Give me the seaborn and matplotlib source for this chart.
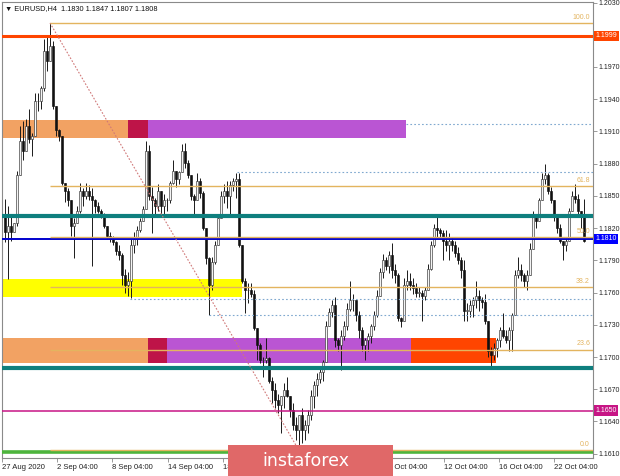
import matplotlib
matplotlib.use("Agg")
import matplotlib.pyplot as plt
from matplotlib.patches import Rectangle
from matplotlib.transforms import blended_transform_factory
import numpy as np
import pandas as pd
import seaborn as sns

# EURUSD H4 candles, in pips (1.1847 -> 11847)
high_pips = [
    11847, 11841, 11832, 11825, 11873, 11915, 11920, 11922, 11931, 11909,
    11946, 11946, 11952, 11996, 11999, 12011, 11994, 11931, 11912, 11906,
    11862, 11857, 11846, 11829, 11841, 11862, 11857, 11862, 11860, 11857,
    11847, 11844, 11838, 11834, 11822, 11816, 11813, 11808, 11804, 11797,
    11782, 11779, 11810, 11816, 11822, 11829, 11841, 11901, 11897, 11858,
    11848, 11861, 11855, 11852, 11848, 11864, 11883, 11873, 11873, 11898,
    11899, 11883, 11869, 11852, 11871, 11867, 11855, 11820, 11793, 11793,
    11808, 11833, 11855, 11861, 11864, 11864, 11867, 11871, 11871, 11804,
    11774, 11769, 11769, 11762, 11727, 11713, 11700, 11718, 11700, 11681,
    11676, 11666, 11660, 11676, 11681, 11664, 11657, 11644, 11637, 11653,
    11641, 11651, 11669, 11678, 11685, 11690, 11697, 11734, 11746, 11753,
    11756, 11718, 11725, 11734, 11750, 11771, 11759, 11753, 11743, 11728,
    11718, 11722, 11731, 11743, 11762, 11783, 11796, 11793, 11799, 11806,
    11787, 11778, 11737, 11774, 11781, 11778, 11774, 11769, 11765, 11762,
    11765, 11787, 11808, 11824, 11830, 11820, 11818, 11818, 11815, 11811,
    11808, 11802, 11793, 11790, 11750, 11753, 11756, 11771, 11762, 11756,
    11759, 11734, 11709, 11713, 11718, 11728, 11741, 11725, 11728, 11741,
    11781, 11793, 11787, 11778, 11781, 11806, 11836, 11833, 11848, 11871,
    11880, 11871, 11858, 11846, 11832, 11824, 11808, 11811, 11839, 11855,
    11861, 11852, 11836, 11847,
]
low_pips = [
    11807, 11773, 11808, 11816, 11822, 11873, 11883, 11892, 11899, 11887,
    11906, 11929, 11931, 11948, 11966, 11976, 11931, 11906, 11901, 11860,
    11844, 11841, 11813, 11792, 11825, 11834, 11841, 11847, 11846, 11785,
    11834, 11834, 11829, 11820, 11810, 11807, 11804, 11795, 11790, 11767,
    11760, 11757, 11755, 11797, 11804, 11816, 11827, 11838, 11846, 11815,
    11833, 11836, 11830, 11833, 11836, 11843, 11861, 11858, 11861, 11872,
    11876, 11867, 11846, 11833, 11846, 11848, 11818, 11787, 11739, 11762,
    11787, 11804, 11829, 11843, 11839, 11833, 11855, 11848, 11802, 11769,
    11741, 11750, 11756, 11725, 11697, 11694, 11681, 11694, 11676, 11657,
    11653, 11648, 11629, 11653, 11663, 11644, 11632, 11623, 11613, 11620,
    11623, 11629, 11641, 11653, 11664, 11676, 11678, 11695, 11729, 11737,
    11709, 11706, 11688, 11716, 11725, 11743, 11743, 11734, 11718, 11706,
    11697, 11706, 11713, 11725, 11737, 11757, 11774, 11781, 11778, 11774,
    11769, 11734, 11728, 11734, 11762, 11762, 11759, 11756, 11756, 11734,
    11753, 11762, 11781, 11802, 11811, 11811, 11790, 11799, 11790, 11799,
    11793, 11787, 11774, 11734, 11734, 11737, 11737, 11746, 11743, 11746,
    11731, 11700, 11690, 11697, 11700, 11709, 11718, 11713, 11706, 11706,
    11739, 11774, 11771, 11765, 11762, 11776, 11801, 11820, 11827, 11846,
    11861, 11852, 11843, 11827, 11815, 11806, 11790, 11799, 11808, 11836,
    11843, 11833, 11820, 11807,
]
close_pips = [
    11816, 11822, 11816, 11825, 11869, 11901, 11892, 11915, 11903, 11906,
    11938, 11938, 11950, 11985, 11976, 11990, 11934, 11911, 11906, 11862,
    11855, 11846, 11822, 11825, 11836, 11855, 11850, 11855, 11850, 11846,
    11841, 11836, 11832, 11822, 11813, 11810, 11807, 11799, 11795, 11776,
    11767, 11771, 11804, 11810, 11818, 11827, 11838, 11892, 11850, 11846,
    11841, 11855, 11841, 11846, 11846, 11862, 11873, 11866, 11872, 11892,
    11881, 11869, 11850, 11846, 11864, 11853, 11820, 11792, 11767, 11788,
    11804, 11829, 11850, 11855, 11850, 11860, 11864, 11866, 11804, 11771,
    11762, 11762, 11759, 11727, 11711, 11697, 11697, 11699, 11678, 11669,
    11660, 11655, 11664, 11669, 11664, 11651, 11637, 11632, 11646, 11632,
    11637, 11646, 11664, 11674, 11680, 11686, 11695, 11729, 11742, 11748,
    11716, 11711, 11720, 11729, 11745, 11753, 11753, 11739, 11725, 11711,
    11716, 11720, 11729, 11739, 11757, 11779, 11790, 11785, 11795, 11781,
    11776, 11736, 11734, 11767, 11771, 11767, 11764, 11760, 11760, 11757,
    11762, 11782, 11804, 11820, 11818, 11815, 11808, 11804, 11808, 11804,
    11797, 11790, 11781, 11743, 11743, 11748, 11753, 11757, 11753, 11751,
    11734, 11706, 11702, 11708, 11716, 11725, 11720, 11716, 11725, 11739,
    11776, 11781, 11776, 11771, 11776, 11801, 11832, 11827, 11846, 11866,
    11869, 11855, 11846, 11832, 11820, 11808, 11804, 11808, 11836, 11850,
    11847, 11836, 11830, 11808,
]
first_open_pips = 11830

date_labels = [
    "27 Aug 2020", "2 Sep 04:00", "8 Sep 04:00", "14 Sep 04:00", "18 Sep 04:00",
    "24 Sep 04:00", "30 Sep 04:00", "6 Oct 04:00", "12 Oct 04:00", "16 Oct 04:00",
    "22 Oct 04:00",
]
price_ticks = [1.1610, 1.1640, 1.1670, 1.1700, 1.1730, 1.1760, 1.1790, 1.1820,
               1.1850, 1.1880, 1.1910, 1.1940, 1.1970, 1.2030]

# fibonacci swing (bar index, price)
fib_start, fib_end = 15, 98
fib_high, fib_low = 1.2011, 1.1613
fib_levels = [0.0, 23.6, 38.2, 50.0, 61.8, 100.0]

# horizontal levels
red_level = 1.1999
blue_level = 1.1810
magenta_level = 1.1650
teal_levels = [1.1831, 1.1690]
green_level = 1.1612
dotted_levels = [1.1917, 1.1872, 1.1754, 1.1739]
dotted_starts = [133.7, 77.3, 41.7, 68.0]

# zones: (bar from, bar to, low, high, colour)
zones = [
    (-1, 41.0, 1.1904, 1.1921, "#F2A263"),
    (41.0, 47.7, 1.1904, 1.1921, "#BE1448"),
    (47.7, 133.7, 1.1904, 1.1921, "#BA55D3"),
    (-1, 79.0, 1.1756, 1.1773, "#FFFF00"),
    (-1, 47.7, 1.1694, 1.1718, "#F2A263"),
    (47.7, 54.0, 1.1694, 1.1718, "#BE1448"),
    (54.0, 135.3, 1.1694, 1.1718, "#BA55D3"),
    (135.3, 163.7, 1.1694, 1.1718, "#FF4500"),
]

sns.set_theme(style="white")
plt.rcParams["font.family"] = ["Liberation Sans", "DejaVu Sans"]

candles = pd.DataFrame({
    "high": np.array(high_pips) / 10000,
    "low": np.array(low_pips) / 10000,
    "close": np.array(close_pips) / 10000,
})
candles["open"] = np.r_[first_open_pips / 10000, candles["close"].values[:-1]]
candles["high"] = candles[["high", "open", "close"]].max(axis=1)
candles["low"] = candles[["low", "open", "close"]].min(axis=1)
candles["bar"] = np.arange(len(candles))

fig = plt.figure(figsize=(6.2, 4.76), dpi=100)
ax = fig.add_axes([2 / 620, 18 / 476, 591 / 620, 456 / 476])
ax.set_xlim(-1, 196)
ax.set_ylim(1.1606, 1.20305)

for x0, x1, lo, hi, col in zones:
    ax.add_patch(Rectangle((x0, lo), x1 - x0, hi - lo, facecolor=col,
                           edgecolor="none", zorder=1))

# candles
bull = candles["close"] >= candles["open"]
body_lo = candles[["open", "close"]].min(axis=1)
body_h = (candles["close"] - candles["open"]).abs().clip(lower=0.00004)
ax.vlines(candles["bar"], candles["low"], candles["high"], color="#1A1A1A",
          lw=0.7, zorder=3)
ax.bar(candles["bar"][bull], body_h[bull], bottom=body_lo[bull], width=0.65,
       color="#F4F4F4", edgecolor="#333333", linewidth=0.45, zorder=4)
ax.bar(candles["bar"][~bull], body_h[~bull], bottom=body_lo[~bull], width=0.65,
       color="#111111", edgecolor="#111111", linewidth=0.45, zorder=4)

# levels
ax.axhline(green_level, color="#4DB43C", lw=2.6, zorder=5)
ax.axhline(red_level, color="#FF4500", lw=2.2, zorder=5)
for lvl in teal_levels:
    ax.axhline(lvl, color="#0E7F7E", lw=3.0, zorder=5)
ax.axhline(blue_level, color="#0000CD", lw=1.4, zorder=5)
ax.axhline(magenta_level, color="#C71585", lw=1.1, zorder=5)
for lvl, start in zip(dotted_levels, dotted_starts):
    ax.hlines(lvl, start, 197, colors="#7FA8CF", linestyles=(0, (1.5, 2)),
              lw=0.8, zorder=5)

# fibonacci
fib_col = "#E3B45F"
for lvl in fib_levels:
    price = fib_low + lvl / 100 * (fib_high - fib_low)
    ax.hlines(price, fib_start, 197, colors=fib_col, lw=1.0, zorder=6)
    ax.text(195, price + 0.0002, f"{lvl:.1f}", color=fib_col, fontsize=5,
            ha="right", va="bottom", zorder=6)
trend = pd.DataFrame({"bar": [fib_start, fib_end], "price": [fib_high, fib_low]})
sns.lineplot(data=trend, x="bar", y="price", ax=ax, color="#D07878",
             lw=0.8, linestyle=(0, (1.5, 1.5)), zorder=5)

# axes styling
for sp in ax.spines.values():
    sp.set_color("#8A8A8A")
    sp.set_linewidth(0.8)
ax.yaxis.tick_right()
ax.set_yticks(price_ticks)
ax.set_yticklabels([f"{p:.4f}" for p in price_ticks])
ax.tick_params(axis="y", right=True, left=False, length=3, width=0.6,
               color="#8A8A8A", labelsize=5.0, pad=1, labelcolor="#222222")
tick_pos = -1 + 18.4 * np.arange(len(date_labels))
ax.set_xticks(tick_pos)
ax.set_xticklabels(date_labels, ha="left")
ax.tick_params(axis="x", bottom=True, length=3, width=0.6, color="#8A8A8A",
               labelsize=5.5, pad=1.5, labelcolor="#222222")
ax.set_xlabel("")
ax.set_ylabel("")
ax.grid(False)

# right side price tags
trans = blended_transform_factory(ax.transAxes, ax.transData)
for price, col in [(red_level, "#FF4500"), (blue_level, "#0000FF"),
                   (magenta_level, "#C71585")]:
    ax.text(1.004, price, f"{price:.4f}", transform=trans, color="white",
            fontsize=5.0, ha="left", va="center", clip_on=False, zorder=10,
            bbox=dict(boxstyle="square,pad=0.25", fc=col, ec="none"))

ax.text(0.005, 0.993, "\u25bc EURUSD,H4  1.1830 1.1847 1.1807 1.1808",
        transform=ax.transAxes, fontsize=5.3, ha="left", va="top",
        color="#111111", zorder=10)

# watermark
fig.add_artist(Rectangle((228 / 620, 0), 165 / 620, 31 / 476,
                         transform=fig.transFigure, facecolor="#E06868",
                         edgecolor="none", zorder=20))
fig.text(306 / 620, 15 / 476, "instaforex", color="white", fontsize=12.5,
         ha="center", va="center", zorder=21, family=["DejaVu Sans"])

fig.savefig("out.png", dpi=100)
